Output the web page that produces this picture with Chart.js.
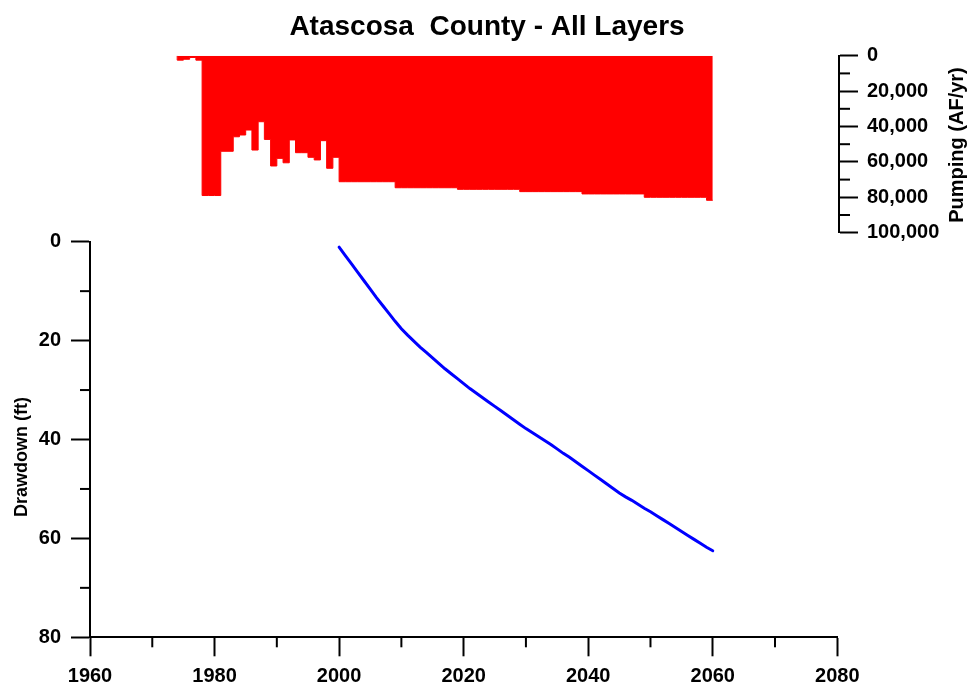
<!DOCTYPE html>
<html>
<head>
<meta charset="utf-8">
<title>Atascosa County - All Layers</title>
<script src="https://cdn.jsdelivr.net/npm/chart.js@4.4.1/dist/chart.umd.min.js"></script>
<style>
  body { margin: 0; background: #fff; }
  #wrap { position: relative; width: 971px; height: 690px; }
  canvas { position: absolute; left: 0; top: 0; }
</style>
</head>
<body>
<div id="wrap">
  <canvas id="drawdownChart" width="971" height="690"></canvas>
  <canvas id="pumpingChart" width="971" height="690"></canvas>
</div>
<script>
// Pumping (AF/yr), one value per year, each drawn over the year before it
const pumpYears = [
  1974, 1975, 1976, 1977, 1978, 1979, 1980, 1981, 1982, 1983,
  1984, 1985, 1986, 1987, 1988, 1989, 1990, 1991, 1992, 1993,
  1994, 1995, 1996, 1997, 1998, 1999, 2000, 2001, 2002, 2003,
  2004, 2005, 2006, 2007, 2008, 2009, 2010, 2011, 2012, 2013,
  2014, 2015, 2016, 2017, 2018, 2019, 2020, 2021, 2022, 2023,
  2024, 2025, 2026, 2027, 2028, 2029, 2030, 2031, 2032, 2033,
  2034, 2035, 2036, 2037, 2038, 2039, 2040, 2041, 2042, 2043,
  2044, 2045, 2046, 2047, 2048, 2049, 2050, 2051, 2052, 2053,
  2054, 2055, 2056, 2057, 2058, 2059, 2060
];
const pumpValues = [
  0, 2500, 2000, 1000, 2500, 79000, 79000, 79000, 54000, 54000,
  45800, 44800, 42000, 53300, 37300, 47300, 62300, 58000, 60500, 47600,
  54800, 54800, 57400, 58900, 48000, 63600, 57400, 71200, 71200, 71200,
  71200, 71200, 71200, 71200, 71200, 71200, 74600, 74600, 74600, 74600,
  74600, 74600, 74600, 74600, 74600, 74600, 75500, 75500, 75500, 75500,
  75500, 75500, 75500, 75500, 75500, 75500, 76800, 76800, 76800, 76800,
  76800, 76800, 76800, 76800, 76800, 76800, 78100, 78100, 78100, 78100,
  78100, 78100, 78100, 78100, 78100, 78100, 80000, 80000, 80000, 80000,
  80000, 80000, 80000, 80000, 80000, 80000, 81700
];

// Drawdown (ft)
const drawYears = [
  2000, 2001, 2002, 2003, 2004, 2005, 2006, 2007, 2008, 2009,
  2010, 2011, 2012, 2013, 2014, 2015, 2016, 2017, 2018, 2019,
  2020, 2021, 2022, 2023, 2024, 2025, 2026, 2027, 2028, 2029,
  2030, 2031, 2032, 2033, 2034, 2035, 2036, 2037, 2038, 2039,
  2040, 2041, 2042, 2043, 2044, 2045, 2046, 2047, 2048, 2049,
  2050, 2051, 2052, 2053, 2054, 2055, 2056, 2057, 2058, 2059, 2060
];
const drawValues = [
  1.1, 2.8, 4.5, 6.2, 7.9, 9.6, 11.3, 12.9, 14.5, 16.1,
  17.6, 18.9, 20.1, 21.3, 22.4, 23.5, 24.6, 25.7, 26.7, 27.7,
  28.7, 29.7, 30.6, 31.5, 32.4, 33.3, 34.2, 35.1, 36.0, 36.9,
  37.8, 38.6, 39.4, 40.2, 41.0, 41.9, 42.8, 43.6, 44.5, 45.4,
  46.3, 47.2, 48.1, 49.0, 49.9, 50.8, 51.6, 52.3, 53.1, 53.9,
  54.6, 55.4, 56.2, 57.0, 57.8, 58.6, 59.4, 60.2, 61.0, 61.8, 62.5
];

// Tick labels
const yearTicks = [1960, 1980, 2000, 2020, 2040, 2060, 2080];
const drawTicks = [0, 20, 40, 60, 80];
const pumpTicks = [0, 20000, 40000, 60000, 80000, 100000];

const FONT = '"Liberation Sans", Arial, Helvetica, sans-serif';
Chart.defaults.font.family = FONT;
Chart.defaults.color = '#000';
Chart.defaults.animation = false;

const tickFont = { size: 20, weight: 'bold' };

// only labelled ticks get the long mark from Chart.js
function majorColor(list) {
  return c => (c.tick && list.includes(c.tick.value)) ? '#000' : 'rgba(0,0,0,0)';
}

// short marks between the labelled ones
function minorTicks(axes) {
  return {
    id: 'minorTicks',
    afterDraw(chart) {
      const ctx = chart.ctx;
      ctx.save();
      ctx.strokeStyle = '#000';
      ctx.lineWidth = 2;
      axes.forEach(a => {
        const s = chart.scales[a.id];
        s.ticks.forEach(t => {
          if (a.major.includes(t.value)) return;
          const p = s.getPixelForValue(t.value);
          ctx.beginPath();
          if (s.isHorizontal()) {
            ctx.moveTo(p, s.top); ctx.lineTo(p, s.top + a.len);
          } else if (s.position === 'left') {
            ctx.moveTo(s.right, p); ctx.lineTo(s.right - a.len, p);
          } else {
            ctx.moveTo(s.left, p); ctx.lineTo(s.left + a.len, p);
          }
          ctx.stroke();
        });
      });
      ctx.restore();
    }
  };
}

// title and axis titles
function texts(items) {
  return {
    id: 'texts',
    afterDraw(chart) {
      const ctx = chart.ctx;
      items.forEach(t => {
        ctx.save();
        ctx.translate(t.x, t.y);
        ctx.rotate(t.angle || 0);
        ctx.font = 'bold ' + t.size + 'px ' + FONT;
        ctx.fillStyle = '#000';
        ctx.textAlign = 'center';
        ctx.textBaseline = 'middle';
        ctx.fillText(t.text, 0, 0);
        ctx.restore();
      });
    }
  };
}

// Drawdown chart (bottom)
new Chart(document.getElementById('drawdownChart'), {
  type: 'line',
  data: {
    datasets: [{
      data: drawYears.map((x, i) => ({ x: x, y: drawValues[i] })),
      borderColor: '#0000ff',
      borderWidth: 3,
      borderCapStyle: 'round',
      pointRadius: 0,
      tension: 0,
      fill: false
    }]
  },
  options: {
    responsive: false,
    layout: { padding: { left: 0, right: 133.7, top: 241.7, bottom: 0 } },
    plugins: { legend: { display: false }, tooltip: { enabled: false } },
    scales: {
      x: {
        type: 'linear', min: 1960, max: 2080,
        border: { display: true, color: '#000', width: 2 },
        grid: { drawOnChartArea: false, tickLength: 19, tickWidth: 2, tickColor: majorColor(yearTicks) },
        ticks: {
          stepSize: 10, padding: 8, font: tickFont, color: '#000',
          autoSkip: false, maxRotation: 0,
          callback: v => yearTicks.includes(v) ? String(v) : ''
        },
        afterFit: s => { s.height = 52.7; }
      },
      y: {
        type: 'linear', reverse: true, min: 0, max: 80,
        border: { display: true, color: '#000', width: 2 },
        grid: { drawOnChartArea: false, tickLength: 19, tickWidth: 2, tickColor: majorColor(drawTicks) },
        ticks: {
          stepSize: 10, padding: 10, font: tickFont, color: '#000', autoSkip: false,
          callback: v => drawTicks.includes(v) ? String(v) : ''
        },
        afterFit: s => { s.width = 90; }
      }
    }
  },
  plugins: [
    minorTicks([{ id: 'x', major: yearTicks, len: 10 }, { id: 'y', major: drawTicks, len: 10 }]),
    texts([{ text: 'Drawdown (ft)', x: 22, y: 457, size: 18, angle: -Math.PI / 2 }])
  ]
});

// Pumping chart (top), hanging from 0
new Chart(document.getElementById('pumpingChart'), {
  type: 'line',
  data: {
    datasets: [{
      data: pumpYears.map((x, i) => ({ x: x, y: pumpValues[i] })),
      stepped: 'after',
      fill: 'origin',
      backgroundColor: '#ff0000',
      borderColor: '#ff0000',
      borderWidth: 1,
      pointRadius: 0
    }]
  },
  options: {
    responsive: false,
    layout: { padding: { left: 90, right: 0, top: 55.7, bottom: 457.3 } },
    plugins: { legend: { display: false }, tooltip: { enabled: false } },
    scales: {
      x: { type: 'linear', display: false, min: 1960, max: 2080.27 },
      y: {
        type: 'linear', position: 'right', reverse: true, min: 0, max: 100000,
        border: { display: true, color: '#000', width: 2 },
        grid: { drawOnChartArea: false, tickLength: 19, tickWidth: 2, tickColor: majorColor(pumpTicks) },
        ticks: {
          stepSize: 10000, padding: 9, font: tickFont, color: '#000', autoSkip: false,
          callback: v => pumpTicks.includes(v) ? v.toLocaleString('en-US') : ''
        },
        afterFit: s => { s.width = 132; }
      }
    }
  },
  plugins: [
    minorTicks([{ id: 'y', major: pumpTicks, len: 11 }]),
    texts([
      { text: 'Atascosa  County - All Layers', x: 487, y: 27.5, size: 28 },
      { text: 'Pumping (AF/yr)', x: 957, y: 145, size: 20, angle: -Math.PI / 2 }
    ])
  ]
});
</script>
</body>
</html>
